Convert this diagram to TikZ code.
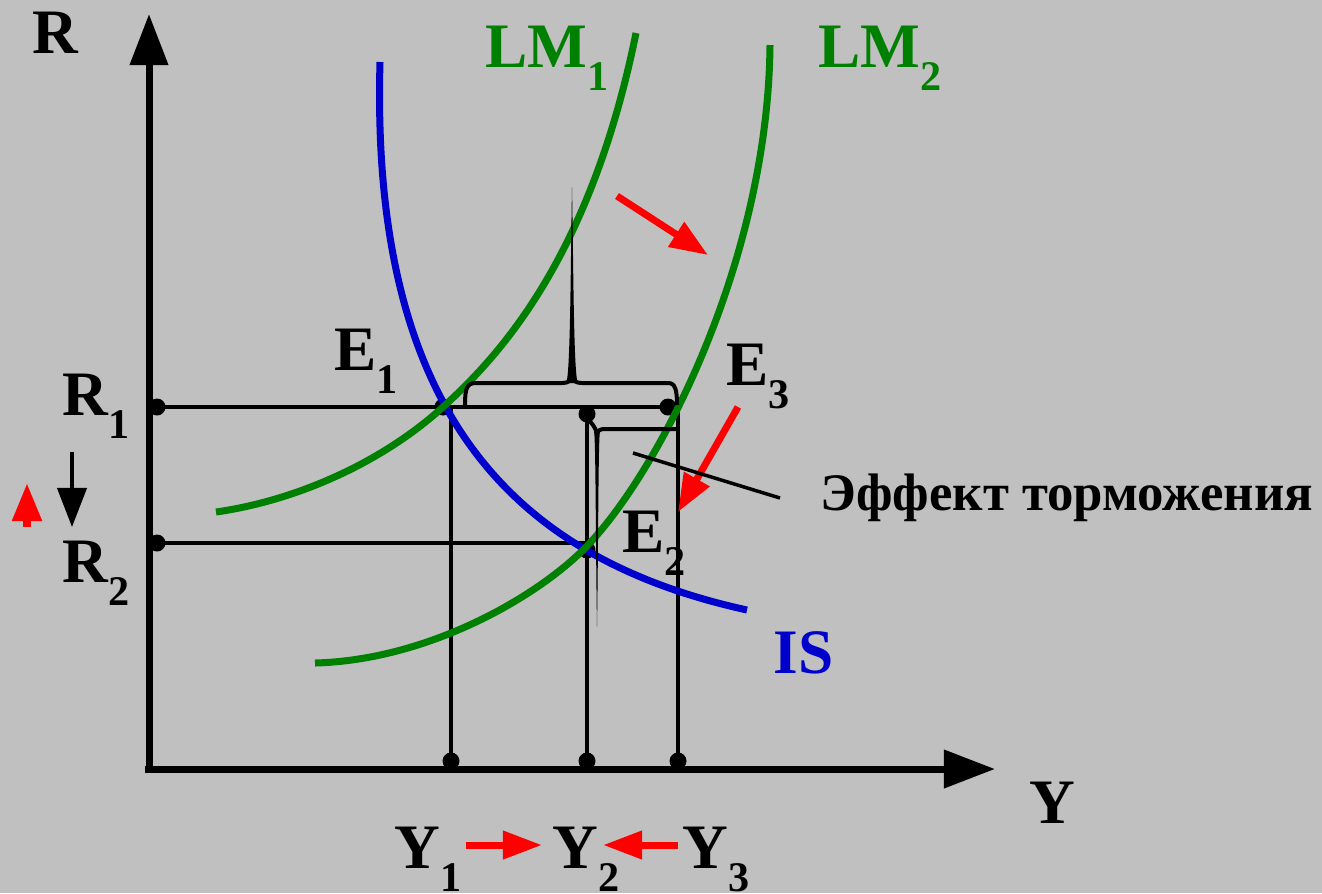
\documentclass[tikz,border=0pt]{standalone}
\usepackage{fontspec}
\setmainfont{Liberation Serif}
\usetikzlibrary{arrows.meta,calc}

\definecolor{bggray}{HTML}{C0C0C0}
\definecolor{lmgreen}{HTML}{008000}
\definecolor{isblue}{HTML}{0000CC}
\definecolor{shiftred}{HTML}{FF0000}

% letter with a lowered index
\newcommand{\sublab}[2]{#1\raisebox{-6.7pt}{\fontsize{12}{12}\selectfont #2}}

\begin{document}
\begin{tikzpicture}[
  x=0.01cm, y=-0.01cm,
  axis/.style={line width=0.07cm, -{Triangle[length=0.51cm, width=0.37cm]}},
  guide/.style={line width=0.035cm},
  curve/.style={line width=0.07cm},
  brace/.style={line width=0.04cm},
  dot/.style={circle, fill=black, inner sep=0pt, minimum size=0.17cm},
  lab/.style={anchor=base west, inner sep=0pt,
    font=\fontsize{18}{20}\selectfont\bfseries},
  movearrow/.style={shiftred, line width=0.07cm,
    -{Triangle[length=0.38cm, width=0.28cm]}},
]

  % ── Background ──────────────────────────────────────────────────────────
  \fill[bggray] (0,0) rectangle (1322,893);
  \useasboundingbox (0,0) rectangle (1322,893);

  % ── Axes ────────────────────────────────────────────────────────────────
  \coordinate (O)    at (149,769);
  \coordinate (Rtop) at (149,14);
  \coordinate (Yend) at (995,769);
  \draw[axis] (O) ++(0,4) -- (Rtop);
  \draw[axis] (O) ++(-4,0) -- (Yend);

  % ── Points ──────────────────────────────────────────────────────────────
  \node[dot] (dR1) at (157,407) {};
  \node[dot] (dR2) at (157,543) {};
  \node[dot] (dE1) at (443,407) {};
  \node[dot] (dM)  at (587,414) {};
  \node[dot] (dE3) at (668,407) {};
  \node[dot] (dE2) at (587,550) {};
  \node[dot] (dY1) at (451,761) {};
  \node[dot] (dY2) at (587,761) {};
  \node[dot] (dY3) at (678,761) {};

  % ── Guide lines ─────────────────────────────────────────────────────────
  \draw[guide] (dR1.center) -- (dE3.center);
  \draw[guide] (dR2.center) -- (dR2 -| dE2);
  \draw[guide] (dY1 |- dE1) -- (dY1.center);
  \draw[guide] (dM.center)  -- (dY2.center);
  \draw[guide] (dY3 |- dE3) -- (dY3.center);

  % ── Curves ──────────────────────────────────────────────────────────────
  \draw[curve, isblue] (380,62) .. controls (370,420) and (520,560) .. (747,610);
  \draw[curve, lmgreen] (216,512) .. controls (300,500) and (385,460) .. (443,407)
      .. controls (497,358) and (590,260) .. (636,33);
  \draw[curve, lmgreen] (315,663) .. controls (430,660) and (540,595) .. (587,546)
      .. controls (660,470) and (768,260) .. (770,45);

  % ── Braces ──────────────────────────────────────────────────────────────
  \draw[brace] (465,405) .. controls (465,388) and (467,383) .. (476,383)
      -- (562,383) .. controls (568,383) and (571,381) .. (572,376);
  \draw[brace] (572,376) .. controls (573,381) and (576,383) .. (582,383)
      -- (668,383) .. controls (675,383) and (677,389) .. (677,405);
  \fill (566,383) .. controls (570.5,378) and (570.6,260) .. (572,187)
      .. controls (573.4,260) and (573.5,378) .. (578,383) -- cycle;
  \draw[brace] (588,419) .. controls (592,424) and (595,426) .. (597,434);
  \draw[brace] (597,434) .. controls (598,430) and (600,429) .. (606,429)
      -- (678,429);
  \fill (594,431) .. controls (595.8,440) and (595.6,540) .. (597,627)
      .. controls (598.4,540) and (598.2,440) .. (600,431) -- cycle;

  % ── Shift arrows ────────────────────────────────────────────────────────
  \coordinate (s1a) at (617,196);  \coordinate (s1b) at (708,255);
  \coordinate (s2a) at (738,407);  \coordinate (s2b) at (678,512);
  \draw[movearrow] (s1a) -- (s1b);
  \draw[movearrow] (s2a) -- (s2b);

  % ── Labels ──────────────────────────────────────────────────────────────
  \node[lab] (lR) at (32,53)   {R};
  \node[lab] (lY) at (1029,823) {Y};
  \node[lab, text=lmgreen] (lLM1) at (485,67) {\sublab{LM}{1}};
  \node[lab, text=lmgreen] (lLM2) at (818,67) {\sublab{LM}{2}};
  \node[lab, text=isblue]  (lIS)  at (773,673) {IS};
  \node[lab] (lE1) at (334,370) {\sublab{E}{1}};
  \node[lab] (lE3) at (726,385) {\sublab{E}{3}};
  \node[lab] (lE2) at (622,552) {\sublab{E}{2}};
  \node[lab] (lR1) at (62,415)  {\sublab{R}{1}};
  \node[lab] (lR2) at (62,582)  {\sublab{R}{2}};
  \node[lab] (lY1) at (394,868) {\sublab{Y}{1}};
  \node[lab] (lY2) at (552,868) {\sublab{Y}{2}};
  \node[lab] (lY3) at (682,868) {\sublab{Y}{3}};

  % ── Crowding-out note ───────────────────────────────────────────────────
  \node[lab, font=\fontsize{15}{17}\selectfont\bfseries] (eff)
      at (820,510) {Эффект торможения};
  \coordinate (ptrA) at (633,453);
  \coordinate (ptrB) at (780,498);
  \draw[guide] (ptrA) -- (ptrB);

  % ── Rate and output moves ───────────────────────────────────────────────
  \coordinate (rdA) at (72,452);  \coordinate (rdB) at (72,527);
  \draw[line width=0.04cm, -{Triangle[length=0.39cm, width=0.29cm]}]
      (rdA) -- (rdB);
  \coordinate (ruA) at (27,527);  \coordinate (ruB) at (27,483);
  \draw[shiftred, line width=0.08cm,
      -{Triangle[length=0.38cm, width=0.28cm]}] (ruA) -- (ruB);
  \coordinate (y1a) at (466,845); \coordinate (y1b) at (542,845);
  \coordinate (y3a) at (678,845); \coordinate (y3b) at (603,845);
  \draw[movearrow, -{Triangle[length=0.39cm, width=0.27cm]}] (y1a) -- (y1b);
  \draw[movearrow, -{Triangle[length=0.39cm, width=0.27cm]}] (y3a) -- (y3b);

\end{tikzpicture}
\end{document}
